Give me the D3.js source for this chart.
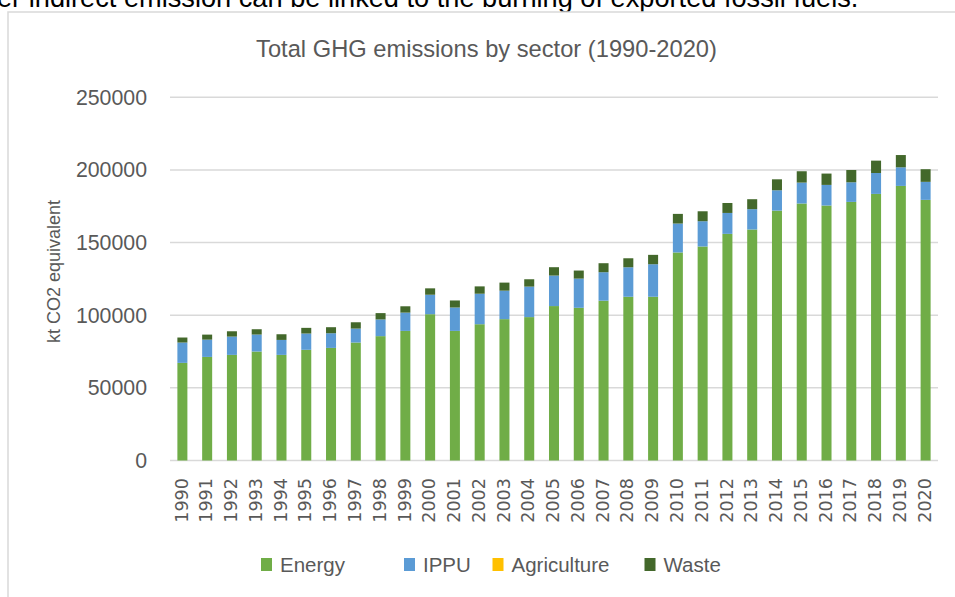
<!DOCTYPE html>
<html>
<head>
<meta charset="utf-8">
<script src="https://cdn.jsdelivr.net/npm/d3@7"></script>
<style>
  html, body { margin: 0; padding: 0; background: #ffffff; }
  svg { display: block; }
</style>
</head>
<body>
<svg id="chart" width="955" height="597"></svg>
<script>
// Total GHG emissions by sector, kt CO2 equivalent
const years = ["1990","1991","1992","1993","1994","1995","1996","1997","1998","1999",
  "2000","2001","2002","2003","2004","2005","2006","2007","2008","2009",
  "2010","2011","2012","2013","2014","2015","2016","2017","2018","2019","2020"];

const energy = [67200, 71300, 72700, 75000, 72700, 76200, 77500, 81200, 85600, 89200,
  100700, 89200, 93800, 97300, 98700, 106300, 105100, 110000, 112700, 112700,
  143200, 147300, 156000, 159000, 172000, 176900, 175500, 178000, 183500, 189000, 179400];

const ippu = [14000, 11900, 12600, 11700, 10300, 11200, 10100, 9600, 11500, 12600,
  13400, 16100, 21000, 19600, 21000, 21000, 20100, 19600, 20300, 22400,
  19900, 17400, 14400, 14000, 14000, 14400, 14200, 13500, 14400, 12800, 12400];

const agriculture = [0, 0, 0, 0, 0, 0, 0, 0, 0, 0,
  0, 0, 0, 0, 0, 0, 0, 0, 0, 0,
  0, 0, 0, 0, 0, 0, 0, 0, 0, 0, 0];

const waste = [3450, 3450, 3650, 3650, 3900, 3900, 4150, 4350, 4350, 4350,
  4400, 4850, 5050, 5550, 5050, 5750, 5550, 6200, 6200, 6450,
  6650, 6850, 6850, 6850, 7550, 7800, 7800, 8450, 8500, 8450, 8700];

const sectors = ["Energy", "IPPU", "Agriculture", "Waste"];
const sectorColors = ["#70ad47", "#5b9bd5", "#ffc000", "#43682b"];
const yTicks = [0, 50000, 100000, 150000, 200000, 250000];

const chartTitle = "Total GHG emissions by sector (1990-2020)";
const yTitle = "kt CO2 equivalent";
const leadText = "er indirect emission can be linked to the burning of exported fossil fuels.";

// Build stacked table
const table = years.map((y, i) => ({
  year: y, Energy: energy[i], IPPU: ippu[i], Agriculture: agriculture[i], Waste: waste[i]
}));
const stacked = d3.stack().keys(sectors)(table);

const svg = d3.select("#chart");
const gray = "#595959";
const gridColor = "#d9d9d9";

// Running text line above the chart frame
svg.append("text")
  .attr("x", -3).attr("y", 7)
  .attr("font-family", "Liberation Sans, Arial, sans-serif")
  .attr("font-size", 27.2)
  .attr("fill", "#000000")
  .text(leadText);

// Chart frame
svg.append("rect")
  .attr("x", 8).attr("y", 12)
  .attr("width", 1000).attr("height", 700)
  .attr("fill", "#ffffff")
  .attr("stroke", gridColor).attr("stroke-width", 1.5);

const plot = { left: 170, right: 938, top: 97.3, bottom: 460.5 };

const x = d3.scaleBand()
  .domain(years)
  .range([plot.left, plot.right])
  .paddingInner(0.596)
  .paddingOuter(0.298);

const y = d3.scaleLinear()
  .domain([0, 250000])
  .range([plot.bottom, plot.top]);

// Gridlines
svg.append("g")
  .selectAll("line")
  .data(yTicks)
  .join("line")
  .attr("x1", plot.left).attr("x2", plot.right)
  .attr("y1", d => y(d)).attr("y2", d => y(d))
  .attr("stroke", gridColor).attr("stroke-width", 1.5);

// Y axis tick labels
const yAxis = d3.axisLeft(y).tickValues(yTicks).tickSize(0).tickPadding(0)
  .tickFormat(d => String(d));
const yg = svg.append("g")
  .attr("transform", `translate(${plot.left - 23},0)`)
  .call(yAxis);
yg.select(".domain").remove();
yg.selectAll("text")
  .attr("font-family", "Liberation Sans, Arial, sans-serif")
  .attr("font-size", 21.3)
  .attr("fill", gray);

// Stacked bars
svg.append("g")
  .selectAll("g")
  .data(stacked)
  .join("g")
  .attr("fill", (d, i) => sectorColors[i])
  .selectAll("rect")
  .data(d => d)
  .join("rect")
  .attr("x", d => x(d.data.year))
  .attr("width", x.bandwidth())
  .attr("y", d => y(d[1]))
  .attr("height", d => Math.max(0, y(d[0]) - y(d[1])));

// X axis labels (rotated)
const xAxis = d3.axisBottom(x).tickSize(0).tickPadding(0);
const xg = svg.append("g")
  .attr("transform", `translate(0,${plot.bottom})`)
  .call(xAxis);
xg.select(".domain").remove();
xg.selectAll("text")
  .attr("font-family", "DejaVu Sans, sans-serif")
  .attr("font-size", 17.6)
  .attr("fill", gray)
  .attr("text-anchor", "end")
  .attr("x", 0).attr("y", 0)
  .attr("dy", "0.35em")
  .attr("transform", "translate(-1,17.5) rotate(-90)");

// Title
svg.append("text")
  .attr("x", 486.5).attr("y", 57)
  .attr("text-anchor", "middle")
  .attr("font-family", "Liberation Sans, Arial, sans-serif")
  .attr("font-size", 23.7)
  .attr("fill", gray)
  .text(chartTitle);

// Y axis title
svg.append("text")
  .attr("transform", "translate(60,271.5) rotate(-90)")
  .attr("text-anchor", "middle")
  .attr("font-family", "Liberation Sans, Arial, sans-serif")
  .attr("font-size", 18)
  .attr("fill", gray)
  .text(yTitle);

// Legend
const legendX = [261, 404, 492.5, 644.5];
const legend = svg.append("g")
  .selectAll("g")
  .data(sectors)
  .join("g")
  .attr("transform", (d, i) => `translate(${legendX[i]},558)`);
legend.append("rect")
  .attr("width", 11).attr("height", 13)
  .attr("fill", (d, i) => sectorColors[i]);
legend.append("text")
  .attr("x", 19).attr("y", 13.5)
  .attr("font-family", "Liberation Sans, Arial, sans-serif")
  .attr("font-size", 20.5)
  .attr("fill", gray)
  .text(d => d);
</script>
</body>
</html>
